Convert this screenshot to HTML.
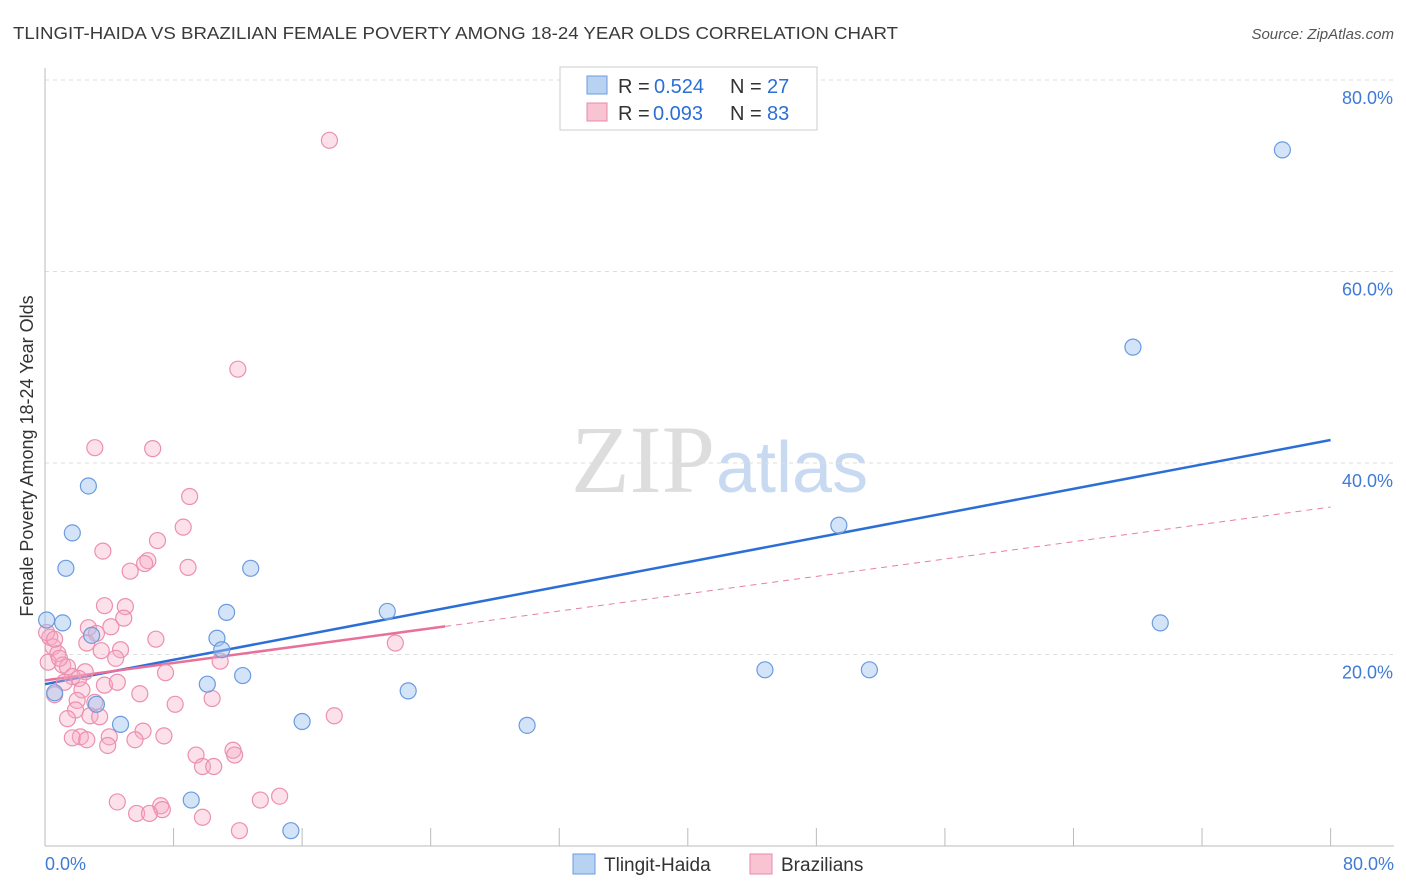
<!DOCTYPE html>
<html><head><meta charset="utf-8"><style>
body{margin:0;background:#fff;font-family:"Liberation Sans",sans-serif}
svg{display:block}
</style></head><body>
<svg id="chart" width="1406" height="892">
<text x="13" y="39" font-size="17.5" fill="#3a3a3a" textLength="885" lengthAdjust="spacingAndGlyphs">TLINGIT-HAIDA VS BRAZILIAN FEMALE POVERTY AMONG 18-24 YEAR OLDS CORRELATION CHART</text>
<text x="1394" y="39" font-size="15" fill="#555" text-anchor="end" font-style="italic">Source: ZipAtlas.com</text>
<text x="715" y="492" font-size="96" fill="#ddd" text-anchor="end" font-family="Liberation Serif,serif">ZIP</text>
<text x="716" y="492" font-size="72" fill="#c8daf2">atlas</text>
<g id="grid"></g><g id="axes"></g><g id="lines"></g><g id="pts"></g>
<text x="33" y="456" font-size="18" fill="#333" text-anchor="middle" transform="rotate(-90 33 456)">Female Poverty Among 18-24 Year Olds</text>
<g>
<rect x="560" y="67" width="257" height="63" fill="#fff" stroke="#ccc"/>
<rect x="587" y="76" width="20" height="18" fill="#b8d2f2" stroke="#6a9be0"/>
<rect x="587" y="103" width="20" height="18" fill="#f8c4d4" stroke="#e88aa8"/>
<text x="618" y="93" font-size="20" fill="#333">R =</text><text x="654" y="93" font-size="20" fill="#2b6fd6">0.524</text>
<text x="730" y="93" font-size="20" fill="#333">N =</text><text x="767" y="93" font-size="20" fill="#2b6fd6">27</text>
<text x="618" y="120" font-size="20" fill="#333">R =</text><text x="653" y="120" font-size="20" fill="#2b6fd6">0.093</text>
<text x="730" y="120" font-size="20" fill="#333">N =</text><text x="767" y="120" font-size="20" fill="#2b6fd6">83</text>
</g>
<g>
<rect x="573" y="854" width="22" height="20" fill="#b8d2f2" stroke="#6a9be0"/>
<text x="604" y="871" font-size="19" fill="#333">Tlingit-Haida</text>
<rect x="750" y="854" width="22" height="20" fill="#f8c4d4" stroke="#e88aa8"/>
<text x="781" y="871" font-size="19" fill="#333">Brazilians</text>
</g>
</svg>
<script>
const yTicks=[20,40,60,80];
const xTickLabels=["0.0%","80.0%"];
const blueX=[0.1,1.1,0.6,1.3,1.7,2.7,2.9,3.2,4.7,9.1,10.1,10.7,11.0,11.3,12.3,12.8,15.3,16.0,21.3,22.6,30.0,44.8,49.4,51.3,67.7,69.4,77.0];
const blueY=[23.6,23.3,16.0,29.0,32.7,37.6,22.0,14.8,12.7,4.8,16.9,21.7,20.5,24.4,17.8,29.0,1.6,13.0,24.5,16.2,12.6,18.4,33.5,18.4,52.1,23.3,72.7];
const pinkX=[17.7,12.0,3.1,6.7,9.0,8.6,7.0,3.6,6.4,6.2,5.3,8.9,3.7,5.0,4.9,2.7,4.1,3.2,2.6,6.9,21.8,0.3,0.5,0.8,3.5,4.7,4.4,10.9,0.2,1.1,1.4,2.5,7.5,1.7,2.1,1.2,3.7,4.5,2.3,0.6,5.9,10.4,2.0,3.1,8.1,1.9,2.8,3.4,1.4,18.0,6.1,2.2,1.7,4.0,7.4,2.6,5.6,3.9,11.7,9.4,11.8,9.8,10.5,14.6,13.4,4.5,7.2,7.3,5.7,6.5,9.8,12.1,0.1,0.6,0.9];
const pinkY=[73.7,49.8,41.6,41.5,36.5,33.3,31.9,30.8,29.8,29.5,28.7,29.1,25.1,25.0,23.8,22.8,22.9,22.2,21.2,21.6,21.2,21.8,20.8,20.1,20.4,20.5,19.6,19.3,19.2,18.9,18.7,18.2,18.1,17.7,17.5,17.1,16.8,17.1,16.3,15.8,15.9,15.4,15.2,15.0,14.8,14.2,13.6,13.5,13.3,13.6,12.0,11.4,11.3,11.4,11.5,11.1,11.1,10.5,10.0,9.5,9.5,8.3,8.3,5.2,4.8,4.6,4.2,3.8,3.4,3.4,3.0,1.6,22.3,21.6,19.6];
const blueTrend=[16.9,42.4];
const pinkTrend=[17.3,35.4];
const pinkSolidEnd=24.9;
const NS="http://www.w3.org/2000/svg";
const X=v=>45+v*16.07, Y=v=>846-v*9.575;
function mk(tag,attrs,parent){const e=document.createElementNS(NS,tag);for(const k in attrs)e.setAttribute(k,attrs[k]);document.getElementById(parent).appendChild(e);return e;}
yTicks.forEach(t=>{
 const l=mk('line',{x1:45,x2:1394,y1:Y(t),y2:Y(t),stroke:'#ddd','stroke-dasharray':'4,4'},'grid');
 
 
 const tx=mk('text',{x:1393,y:Y(t)+24,'font-size':18,fill:'#3f7bd6','text-anchor':'end'},'grid');
 tx.textContent=t.toFixed(1)+'%';
 
 
});
const ax=mk('line',{x1:45,x2:1394,y1:846,y2:846,stroke:'#bbb'},'axes');


const ay=mk('line',{x1:45,x2:45,y1:68,y2:846,stroke:'#bbb'},'axes');


for(let i=0;i<=10;i++){const t=mk('line',{x1:X(i*8),x2:X(i*8),y1:828,y2:846,stroke:'#bbb'},'axes');
 
 }
[[0,'start',45],[80,'end',1394]].forEach((d,i)=>{const t=mk('text',{x:d[2],y:870,'font-size':18,fill:'#3f7bd6','text-anchor':d[1]},'axes');t.textContent=xTickLabels[i];
 
 });
const pAt=v=>pinkTrend[0]+(pinkTrend[1]-pinkTrend[0])*v/80;
pinkX.forEach((x,i)=>{const c=mk('circle',{cx:X(x),cy:Y(pinkY[i]),r:8,fill:'rgba(245,170,195,0.35)',stroke:'#eb90ae','stroke-width':1.2},'pts');
 
 });
blueX.forEach((x,i)=>{const c=mk('circle',{cx:X(x),cy:Y(blueY[i]),r:8,fill:'rgba(160,195,240,0.45)',stroke:'#6a9be0','stroke-width':1.2},'pts');
 
 });
const bl=mk('line',{x1:X(0),y1:Y(blueTrend[0]),x2:X(80),y2:Y(blueTrend[1]),stroke:'#2b6fd6','stroke-width':2.5},'lines');


const pd=mk('line',{x1:X(pinkSolidEnd),y1:Y(pAt(pinkSolidEnd)),x2:X(80),y2:Y(pinkTrend[1]),stroke:'#e87fa2','stroke-width':1,'stroke-dasharray':'6,5'},'lines');


const ps=mk('line',{x1:X(0),y1:Y(pinkTrend[0]),x2:X(pinkSolidEnd),y2:Y(pAt(pinkSolidEnd)),stroke:'#e8709a','stroke-width':2.5},'lines');


</script>
</body></html>
